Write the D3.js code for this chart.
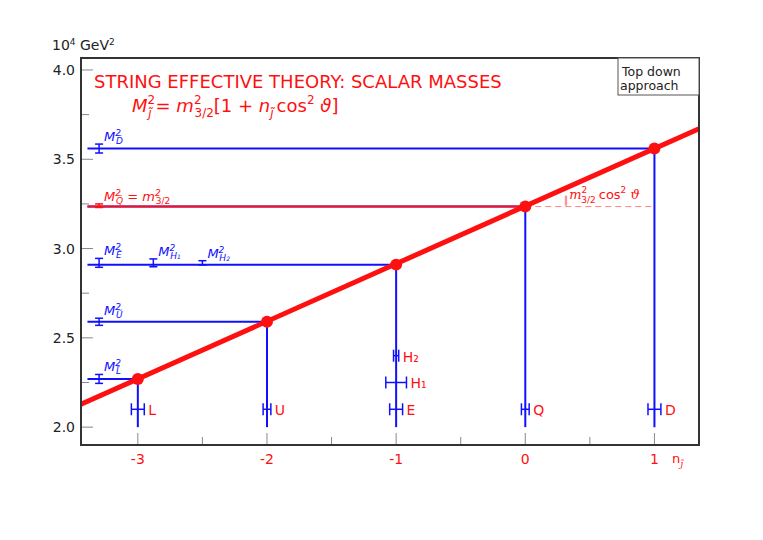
<!DOCTYPE html>
<html><head><meta charset="utf-8">
<script src="https://cdn.jsdelivr.net/npm/d3@7"></script>
<style>body{margin:0;background:#fff}text{font-family:"DejaVu Sans",sans-serif}</style>
</head><body><svg id="c" width="763" height="540"></svg>
<script>
const fields = ["L","U","E","Q","D"];
const nValues = [-3,-2,-1,0,1];
const masses = [2.27,2.59,2.91,3.235,3.56];
const errLabels = ["D","Q","E","H1","H2","U","L"];
const errX = [-3.3,-3.3,-3.3,-2.88,-2.5,-3.3,-3.3];
const errY = [3.56,3.24,2.92,2.92,2.92,2.59,2.27];
const errD = [0.025,0.01,0.025,0.022,0.012,0.02,0.025];
const markN = [-3,-2,-1,-1,-1,0,1];
const markY = [2.1,2.1,2.1,2.25,2.4,2.1,2.1];
const markW = [0.05,0.03,0.05,0.08,0.02,0.03,0.05];
const markT = ["L","U","E","H₁","H₂","Q","D"];
const yTicks = [2.0,2.5,3.0,3.5,4.0];
const xTicks = [-3,-2,-1,0,1];

const svg=d3.select("#c");
const L=81,R=699,T=58,B=445;
const x=d3.scaleLinear().domain([-3.44,1.345]).range([L,R]);
const y=d3.scaleLinear().domain([1.9,4.067]).range([B,T]);
const blue="#1010ff", red="#ff1010";
const g=svg.append("g");
g.append("defs").append("clipPath").attr("id","cl").append("rect").attr("x",L).attr("y",T).attr("width",R-L).attr("height",B-T);
d3.range(1.75,4.1,0.25).forEach(v=>{if(v<1.9)return;const maj=Math.abs(v*2-Math.round(v*2))<1e-6;
 g.append("line").attr("x1",L).attr("x2",L+(maj?12:8)).attr("y1",y(v)).attr("y2",y(v)).attr("stroke","#888");});
d3.range(-3,1.5,0.5).forEach(v=>{const maj=Number.isInteger(v);
 g.append("line").attr("y1",B).attr("y2",B-(maj?12:8)).attr("x1",x(v)).attr("x2",x(v)).attr("stroke","#888");});
yTicks.forEach(v=>g.append("text").attr("x",L-6).attr("y",y(v)+5).attr("text-anchor","end").attr("font-size",14).attr("fill","#222").text(v.toFixed(1)));
xTicks.forEach(v=>g.append("text").attr("x",x(v)).attr("y",B+19).attr("text-anchor","middle").attr("font-size",14).attr("fill",red).text(v));
g.append("text").attr("x",52).attr("y",50).attr("font-size",14).attr("fill","#222").html('10<tspan font-size="9" dy="-5">4</tspan><tspan dy="5"> GeV</tspan><tspan font-size="9" dy="-5">2</tspan>');
g.append("text").attr("x",672).attr("y",463).attr("font-size",13).attr("fill",red).html('n<tspan font-size="9" dy="4" font-family="DejaVu Serif" font-style="italic">j̃</tspan>');
fields.forEach((f,i)=>{
 g.append("line").attr("x1",x(-3.39)).attr("x2",x(nValues[i])).attr("y1",y(masses[i])).attr("y2",y(masses[i])).attr("stroke",blue).attr("stroke-width",2);
 g.append("line").attr("x1",x(nValues[i])).attr("x2",x(nValues[i])).attr("y1",y(2.0)).attr("y2",y(masses[i])).attr("stroke",blue).attr("stroke-width",2);
});
g.append("line").attr("x1",x(-3.39)).attr("x2",x(0)).attr("y1",y(3.235)).attr("y2",y(3.235)).attr("stroke",red).attr("stroke-width",2);
g.append("line").attr("x1",x(0)).attr("x2",x(1)).attr("y1",y(3.235)).attr("y2",y(3.235)).attr("stroke","#ff8080").attr("stroke-width",1).attr("stroke-dasharray","6,4");
g.append("line").attr("x1",x(0.31)).attr("x2",x(0.31)).attr("y1",y(3.235)-1).attr("y2",y(3.235)-11).attr("stroke","#ff8080");
g.append("line").attr("x1",x(0.32)).attr("x2",x(0.32)).attr("y1",y(3.235)-1).attr("y2",y(3.235)-11).attr("stroke","#ff8080");
g.append("text").attr("x",x(0.34)).attr("y",y(3.235)-8).attr("font-size",13).attr("fill",red).html('<tspan font-family="DejaVu Serif" font-style="italic">m</tspan><tspan font-size="9" dy="-6">2</tspan><tspan font-size="9" dx="-6" dy="10">3/2</tspan><tspan dy="-4" dx="3">cos</tspan><tspan font-size="9" dy="-6">2</tspan><tspan dy="6" font-family="DejaVu Serif" font-style="italic"> ϑ</tspan>');
errLabels.forEach((lab,i)=>{
 const c=lab=="Q"?red:blue, xx=x(errX[i]);
 g.append("line").attr("x1",xx).attr("x2",xx).attr("y1",y(errY[i]-errD[i])).attr("y2",y(errY[i]+errD[i])).attr("stroke",c).attr("stroke-width",1.5);
 [errY[i]-errD[i],errY[i]+errD[i]].forEach(v=>g.append("line").attr("x1",xx-4).attr("x2",xx+4).attr("y1",y(v)).attr("y2",y(v)).attr("stroke",c).attr("stroke-width",1.5));
 let sub=lab.length>1?('H<tspan font-size="6">'+lab[1]+'</tspan>'):lab+'̃';
 const tx=g.append("text").attr("x",xx+5).attr("y",y(errY[i]+errD[i])-3).attr("font-family","DejaVu Serif").attr("font-style","italic").attr("font-size",13).attr("fill",c);
 if(lab=="Q") tx.html('M<tspan font-size="9" dy="-5">2</tspan><tspan font-size="9" dx="-5" dy="8">Q̃</tspan><tspan dy="-3" font-style="normal"> = </tspan>m<tspan font-size="9" dy="-5">2</tspan><tspan font-size="9" dx="-5" dy="8" font-style="normal">3/2</tspan>');
 else tx.html('M<tspan font-size="9" dy="-5">2</tspan><tspan font-size="9" dx="-5" dy="8">'+sub+'</tspan>');
});
markN.forEach((n,i)=>{
 const xc=x(n), w=x(n+markW[i])-x(n), yy=y(markY[i]);
 g.append("line").attr("x1",xc-w).attr("x2",xc+w).attr("y1",yy).attr("y2",yy).attr("stroke",blue).attr("stroke-width",1.5);
 [xc-w,xc+w].forEach(v=>g.append("line").attr("x1",v).attr("x2",v).attr("y1",yy-6).attr("y2",yy+6).attr("stroke",blue).attr("stroke-width",1.5));
 g.append("text").attr("x",xc+w+4).attr("y",yy+6).attr("font-size",14).attr("fill",red).text(markT[i]);
});
const k=(masses[4]-masses[0])/4;
g.append("line").attr("clip-path","url(#cl)").attr("x1",x(-3.44)).attr("x2",x(1.345)).attr("y1",y(masses[0]+k*(-0.44))).attr("y2",y(masses[0]+k*4.345)).attr("stroke",red).attr("stroke-width",5);
fields.forEach((f,i)=>g.append("circle").attr("cx",x(nValues[i])).attr("cy",y(masses[i])).attr("r",6).attr("fill",red));
g.append("rect").attr("x",L).attr("y",T).attr("width",R-L).attr("height",B-T).attr("fill","none").attr("stroke","#333").attr("stroke-width",2);
g.append("rect").attr("x",618).attr("y",T).attr("width",R-618).attr("height",37).attr("fill","#fff").attr("stroke","#555");
g.append("text").attr("x",622).attr("y",76).attr("font-size",12.5).attr("fill","#222").text("Top down");
g.append("text").attr("x",620).attr("y",90).attr("font-size",12.5).attr("fill","#222").text("approach");
g.append("text").attr("x",94).attr("y",88).attr("font-size",18).attr("fill",red).text("STRING EFFECTIVE THEORY: SCALAR MASSES");
g.append("text").attr("x",132).attr("y",112).attr("font-size",18).attr("fill",red).attr("font-family","DejaVu Serif").html('<tspan font-style="italic">M</tspan><tspan font-size="12" dy="-8">2</tspan><tspan font-size="12" dx="-7" dy="13" font-style="italic">j̃</tspan><tspan dy="-5" dx="4">= </tspan><tspan font-style="italic">m</tspan><tspan font-size="12" dy="-8">2</tspan><tspan font-size="12" dx="-7" dy="13" font-family="DejaVu Sans">3/2</tspan><tspan dy="-5">[1 + </tspan><tspan font-style="italic">n</tspan><tspan font-size="12" dy="5" font-style="italic">j̃</tspan><tspan dy="-5" dx="3" font-family="DejaVu Sans">cos</tspan><tspan font-size="12" dy="-8" font-family="DejaVu Sans">2</tspan><tspan dy="8" font-style="italic"> ϑ</tspan><tspan>]</tspan>');
</script></body></html>
